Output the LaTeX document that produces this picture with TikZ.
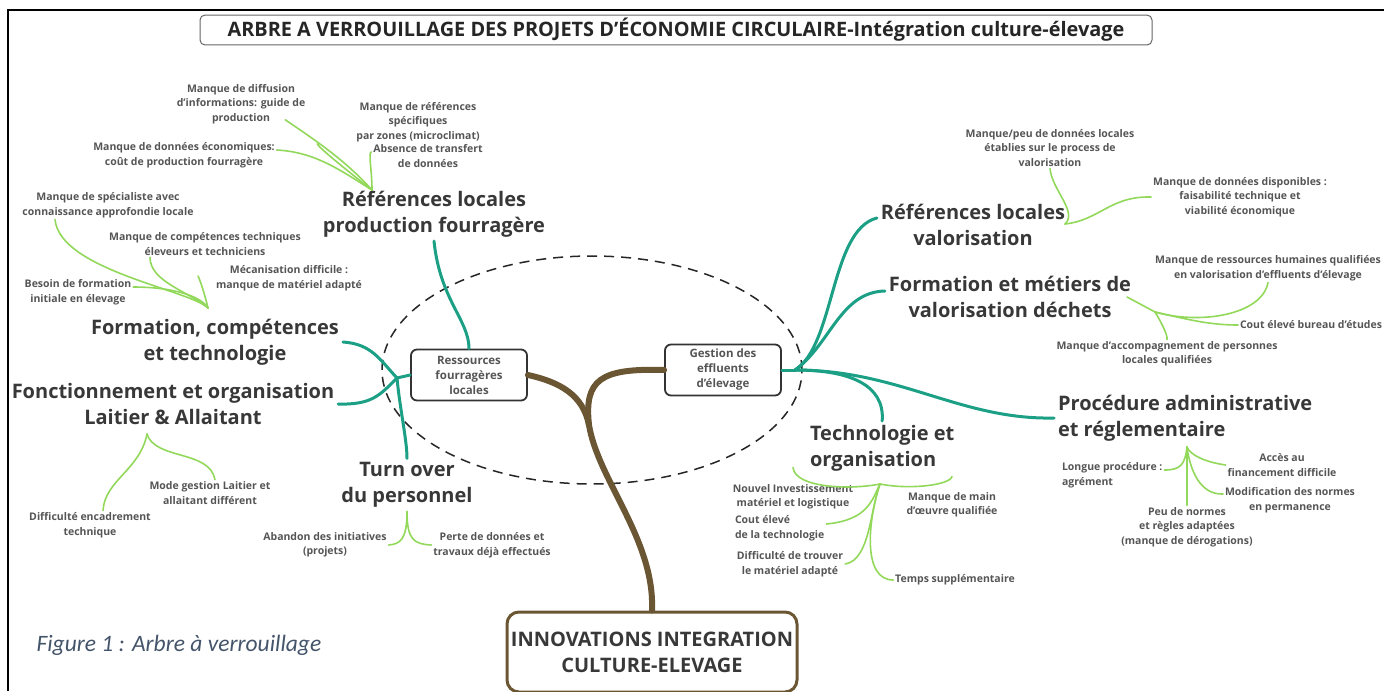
\documentclass[tikz,border=0pt]{standalone}
\usepackage{fontspec}
\setmainfont{Open Sans}
\newfontfamily\capfont{Carlito}
\usepackage{tikz}
\usetikzlibrary{shapes.geometric, arrows.meta, positioning}
\usepackage{xcolor}
\definecolor{branchgreen}{HTML}{1BA085}
\definecolor{twiggreen}{HTML}{92D85A}
\definecolor{trunkbrown}{HTML}{6B5633}
\definecolor{darktext}{HTML}{383838}
\definecolor{leaftext}{HTML}{555555}
\definecolor{captionblue}{HTML}{44546A}
\tikzstyle{titlebox} = [rectangle, rounded corners=5pt, draw=black!60, line width=1pt, minimum width=952pt, minimum height=27pt, text=black!85, font=\bfseries\fontsize{19.9}{22}\selectfont]
\tikzstyle{hub} = [rectangle, rounded corners=6pt, draw=black!80, line width=1.8pt, minimum width=116pt, minimum height=51pt, align=center, text=leaftext, font=\bfseries\fontsize{11.5}{15}\selectfont, inner sep=2pt]
\tikzstyle{rootbox} = [rectangle, rounded corners=12pt, draw=trunkbrown, line width=3pt, minimum width=290pt, minimum height=80pt, align=center, text=darktext, font=\bfseries\fontsize{20}{26}\selectfont]
\tikzstyle{topic} = [align=center, text=darktext, font=\bfseries\fontsize{20}{26}\selectfont, inner sep=0pt, outer sep=4pt]
\tikzstyle{leaf} = [align=center, text=leaftext, font=\bfseries\fontsize{10.5}{14.5}\selectfont, inner sep=0pt, outer sep=2pt]
\tikzstyle{branch} = [draw=branchgreen, line width=3pt, line cap=round]
\tikzstyle{twig} = [draw=twiggreen, line width=1.6pt, line cap=round]
\tikzstyle{trunk} = [draw=trunkbrown, line width=6pt, line cap=round]

\begin{document}
\begin{tikzpicture}[x=1pt, y=-1pt]
\useasboundingbox (0,0) rectangle (1384,691);
\draw[line width=2pt] (1384,10) -- (8,10) -- (8,691);

% Nodes
\node (title) [titlebox] at (676,30) {ARBRE A VERROUILLAGE DES PROJETS D'ÉCONOMIE CIRCULAIRE-Intégration culture-élevage};
\node (core) [ellipse, draw=black!85, line width=1.5pt, dash pattern=on 10pt off 7pt, minimum width=420pt, minimum height=228pt] at (592,370) {};
\node (fourrage) [hub] at (469,375) {Ressources\\fourragères\\locales};
\node (effluent) [hub] at (723,370) {Gestion des\\effluents\\d'élevage};
\node (root) [rootbox] at (652,652) {INNOVATIONS INTEGRATION\\CULTURE-ELEVAGE};
\node (caption) [anchor=west, text=captionblue, font=\capfont\itshape\fontsize{23.5}{28}\selectfont] at (33,645) {Figure 1 : Arbre à verrouillage};

% left topics
\node (refprod) [topic] at (434,214) {Références locales\\production fourragère};
\node (compet) [topic] at (215,342) {Formation, compétences\\et technologie};
\node (fonction) [topic] at (173,404) {Fonctionnement et organisation\\Laitier \& Allaitant};
\node (turnover) [topic] at (407,485) {Turn over\\du personnel};
% right topics
\node (refval) [topic] at (973,225) {Références locales\\valorisation};
\node (metiers) [topic] at (1010,297) {Formation et métiers de\\valorisation déchets};
\node (techno) [topic, align=left, anchor=west] at (806,448) {Technologie et\\organisation};
\node (procedure) [topic, align=left, anchor=west] at (1054,418) {Procédure administrative\\et réglementaire};

% leaves
\node (diffus) [leaf] at (241,104) {Manque de diffusion\\d'informations: guide de\\production};
\node (microclim) [leaf] at (418,122) {Manque de références\\spécifiques\\par zones (microclimat)};
\node (econ) [leaf] at (184,155) {Manque de données économiques:\\coût de production fourragère};
\node (transfert) [leaf] at (428,156) {Absence de transfert\\de données};
\node (specialist) [leaf] at (108,205) {Manque de spécialiste avec\\connaissance approfondie locale};
\node (comptech) [leaf] at (205,244) {Manque de compétences techniques\\éleveurs et techniciens};
\node (mecan) [leaf] at (289,278) {Mécanisation difficile :\\manque de matériel adapté};
\node (besoin) [leaf] at (78,292) {Besoin de formation\\initiale en élevage};
\node (mode) [leaf] at (210,493) {Mode gestion Laitier et\\allaitant différent};
\node (difficulte) [leaf] at (90,525) {Difficulté encadrement\\technique};
\node (abandon) [leaf] at (325,545) {Abandon des initiatives\\(projets)};
\node (perte) [leaf] at (492,545) {Perte de données et\\travaux déjà effectués};
\node (manquepeu) [leaf] at (1050,148) {Manque/peu de données locales\\établies sur le process de\\valorisation};
\node (dispo) [leaf] at (1240,197) {Manque de données disponibles :\\faisabilité technique et\\viabilité économique};
\node (rh) [leaf] at (1268,268) {Manque de ressources humaines qualifiées\\en valorisation d'effluents d'élevage};
\node (bureau) [leaf, anchor=west] at (1238,325) {Cout élevé bureau d'études};
\node (accomp) [leaf] at (1167,354) {Manque d'accompagnement de personnes\\locales qualifiées};
\node (nouvel) [leaf] at (793,497) {Nouvel Investissement\\matériel et logistique};
\node (mainoeuvre) [leaf] at (952,505) {Manque de main\\d'œuvre qualifiée};
\node (cout) [leaf, align=left, anchor=west] at (733,528) {Cout élevé\\de la technologie};
\node (diftrouver) [leaf] at (790,564) {Difficulté de trouver\\le matériel adapté};
\node (temps) [leaf] at (955,580) {Temps supplémentaire};
\node (longue) [leaf, align=left, anchor=west] at (1060,475) {Longue procédure :\\agrément};
\node (acces) [leaf] at (1282,465) {Accès au\\financement difficile};
\node (modif) [leaf] at (1290,500) {Modification des normes\\en permanence};
\node (peu) [leaf] at (1187,527) {Peu de normes\\et règles adaptées\\(manque de dérogations)};

% junctions
\coordinate (fork) at (589,425);
\coordinate (leftJ) at (397,378);
\coordinate (rightJ) at (795,370);
\coordinate (refprodJ) at (372,190);
\coordinate (competJ) at (208,308);
\coordinate (fonctionJ) at (147,434);
\coordinate (metiersJ) at (1155,312);
\coordinate (refvalJ) at (1065,224);
\coordinate (technoJ) at (880,484);
\coordinate (procedureJ) at (1187,447);

% Trunk
\draw [trunk] (root.north) .. controls (655,540) and (598,480) .. (fork) .. controls (583,395) and (560,382) .. (fourrage.east);
\draw [trunk] (fork) .. controls (584,380) and (600,368) .. (effluent.west);

% Branches
\draw [branch] (fourrage.west) -- (leftJ);
\draw [branch] (leftJ) .. controls (380,360) and (372,344) .. (compet.east);
\draw [branch] (leftJ) .. controls (380,395) and (372,405) .. (fonction.east);
\draw [branch] (refprod.south) .. controls (440,300) and (469,320) .. (fourrage.north);
\draw [branch] (leftJ) .. controls (400,410) and (407,440) .. (turnover.north);
\draw [branch] (effluent.east) -- (rightJ);
\draw [branch] (rightJ) .. controls (835,345) and (830,230) .. ([yshift=7pt]refval.west);
\draw [branch] (rightJ) .. controls (830,345) and (840,292) .. ([yshift=6pt]metiers.west);
\draw [branch] (rightJ) .. controls (850,370) and (885,385) .. (techno.north);
\draw [branch] (rightJ) .. controls (900,370) and (960,420) .. (procedure.west);

% Twigs
\draw [twig] (refprodJ) .. controls (345,160) and (315,140) .. ([shift={(-22,-6)}]diffus.south east);
\draw [twig] (refprodJ) .. controls (340,165) and (312,142) .. ([xshift=-36pt]microclim.south west);
\draw [twig] (refprodJ) .. controls (340,170) and (315,152) .. ([yshift=5pt]econ.east);
\draw [twig] (refprodJ) .. controls (372,170) and (368,152) .. ([yshift=4pt]transfert.west);
\draw [twig] (competJ) .. controls (190,290) and (60,270) .. ([xshift=-53pt]specialist.south);
\draw [twig] (competJ) .. controls (190,292) and (150,282) .. ([xshift=-55pt]comptech.south);
\draw [twig] (competJ) .. controls (205,295) and (200,280) .. ([shift={(-16,-2)}]mecan.west);
\draw [twig] (competJ) .. controls (200,295) and (170,287) .. ([yshift=5pt]besoin.east);
\draw [twig] (fonctionJ) .. controls (155,460) and (210,450) .. ([xshift=5pt]mode.north);
\draw [twig] (fonctionJ) .. controls (140,470) and (105,480) .. ([xshift=13pt]difficulte.north);
\draw [twig] (turnover.south) .. controls (407,540) and (400,544) .. (abandon.east);
\draw [twig] (turnover.south) .. controls (407,540) and (414,544) .. (perte.west);
\draw [twig] (refvalJ) .. controls (1078,212) and (1052,190) .. (manquepeu.south);
\draw [twig] (refvalJ) .. controls (1100,220) and (1110,196) .. (dispo.west);
\draw [twig] ([xshift=-8pt]metiers.east) -- (metiersJ);
\draw [twig] (metiersJ) .. controls (1200,325) and (1262,315) .. (rh.south);
\draw [twig] (metiersJ) .. controls (1190,320) and (1210,325) .. (bureau.west);
\draw [twig] (metiersJ) .. controls (1160,320) and (1168,335) .. (accomp.north);
\draw [twig] (technoJ) .. controls (850,490) and (795,488) .. ([yshift=15pt]nouvel.north);
\draw [twig] (technoJ) .. controls (910,490) and (950,485) .. ([yshift=14pt]mainoeuvre.north);
\draw [twig] (technoJ) .. controls (872,500) and (868,520) .. ([yshift=4pt]cout.east);
\draw [twig] (technoJ) .. controls (870,510) and (870,560) .. (diftrouver.east);
\draw [twig] (technoJ) .. controls (868,520) and (862,580) .. (temps.west);
\draw [twig] (procedureJ) .. controls (1185,465) and (1180,470) .. ([yshift=5pt]longue.east);
\draw [twig] (procedureJ) .. controls (1190,455) and (1205,462) .. (acces.west);
\draw [twig] (procedureJ) .. controls (1190,470) and (1200,495) .. ([yshift=6pt]modif.west);
\draw [twig] (procedureJ) -- (peu.north);

\end{tikzpicture}
\end{document}
